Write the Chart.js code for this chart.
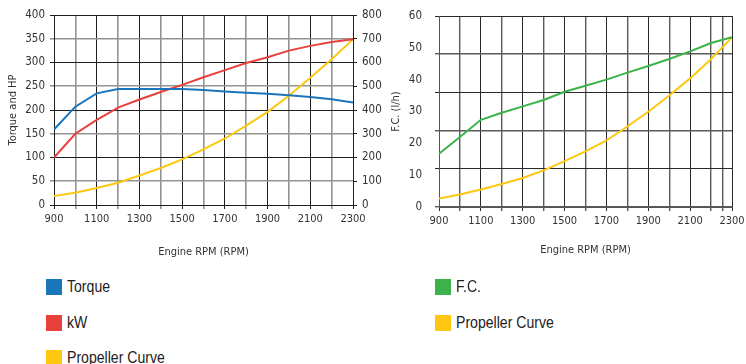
<!DOCTYPE html>
<html>
<head>
<meta charset="utf-8">
<script src="https://cdn.jsdelivr.net/npm/chart.js@4"></script>
<style>
  body { margin: 0; background: #fff; width: 746px; height: 364px; overflow: hidden; position: relative; }
  canvas { position: absolute; top: 0; }
  #perfChart { left: 0; }
  #fuelChart { left: 380px; }
  .legend { position: absolute; font-family: 'Liberation Sans', Arial, sans-serif; font-size: 16px; color: #222; line-height: 16px; white-space: nowrap; }
  .legend span { display: inline-block; width: 16px; height: 16px; vertical-align: top; margin-right: 5px; }
  .legend b { display: inline-block; font-weight: normal; transform: scaleX(0.88); transform-origin: 0 50%; }
</style>
</head>
<body>
<canvas id="perfChart" width="392" height="266"></canvas>
<canvas id="fuelChart" width="366" height="266"></canvas>
<div id="legends"></div>
<script>
const rpm = [900, 1000, 1100, 1200, 1300, 1400, 1500, 1600, 1700, 1800, 1900, 2000, 2100, 2200, 2300];

// left chart (Torque and HP)
const torque = [159, 207, 235, 244, 244, 244, 244, 242, 239, 236.5, 234, 231, 227.5, 222.5, 216];
const kw = [100, 150, 179, 205, 222, 238, 253, 269, 284, 299, 311, 325, 335, 343, 349];
const propPower = [19, 26, 36, 47, 62, 78, 96, 117, 140, 167, 196, 230, 268, 307, 349];

// right chart (F.C.)
const fuel = [16.7, 22, 27.4, 29.6, 31.6, 33.6, 36.2, 38.1, 40, 42.2, 44.3, 46.5, 48.9, 51.5, 53.3];
const propFuel = [2.7, 3.9, 5.5, 7.2, 9.1, 11.5, 14.4, 17.5, 20.9, 25.3, 29.9, 35, 40.4, 46.5, 53.3];
const fuelExtraGrid = [2255];

const BLUE = '#1a75bb', RED = '#e8403a', YELLOW = '#fdc80f', GREEN = '#3bb34a';

Chart.defaults.font.family = "'DejaVu Sans Condensed', 'Liberation Sans', sans-serif";
Chart.defaults.font.size = 11.5;
Chart.defaults.color = '#333';

const pts = (ys) => rpm.map((x, i) => ({ x: x, y: ys[i] }));
const line = (label, ys, color, axis) => ({
    label: label, data: pts(ys), borderColor: color, backgroundColor: color,
    borderWidth: 2, pointRadius: 0, tension: 0, yAxisID: axis
});
const rpmLabel = (v) => ((v - 900) % 200 === 0 ? v : '');
const titleFont = { size: 11 };

function initPerfChart() {
    const ctx = document.getElementById('perfChart').getContext('2d');
    window.perfChart = new Chart(ctx, {
        type: 'line',
        data: {
            datasets: [
                line('Torque', torque, BLUE, 'y'),
                line('kW', kw, RED, 'y'),
                line('Propeller Curve', propPower, YELLOW, 'y')
            ]
        },
        options: {
            responsive: false, animation: false, devicePixelRatio: 1,
            layout: { padding: { top: 15, left: 0, right: 0, bottom: 0 } },
            plugins: { legend: { display: false }, tooltip: { enabled: false } },
            scales: {
                x: {
                    type: 'linear', min: 900, max: 2300,
                    ticks: { stepSize: 100, autoSkip: false, maxRotation: 0, padding: 4, font: { size: 11 }, callback: rpmLabel },
                    grid: {
                        tickLength: 4,
                        color: (c) => (c.index % 2 ? '#939393' : '#1e1e1e'),
                        lineWidth: (c) => (c.index % 2 ? 1.6 : 1)
                    },
                    border: { color: '#1e1e1e' },
                    title: { display: true, text: 'Engine RPM (RPM)', font: titleFont, padding: { top: 0, bottom: 7 } },
                    afterFit: (s) => { s.height = 61; }
                },
                y: {
                    min: 0, max: 400,
                    ticks: { stepSize: 50, padding: 5 },
                    grid: {
                        tickLength: 4,
                        color: (c) => (c.index % 2 ? '#939393' : '#1e1e1e'),
                        lineWidth: (c) => (c.index % 2 ? 1.6 : 1)
                    },
                    border: { color: '#1e1e1e' },
                    title: { display: true, text: 'Torque and HP', font: titleFont, padding: { top: 7, bottom: 0 } },
                    afterFit: (s) => { s.width = 54; }
                },
                y2: {
                    position: 'right', min: 0, max: 800,
                    ticks: { stepSize: 100, padding: 5 },
                    grid: { drawOnChartArea: false, tickLength: 4, color: '#1e1e1e' },
                    border: { color: '#1e1e1e' },
                    afterFit: (s) => { s.width = 39; }
                }
            }
        }
    });
}

function initFuelChart() {
    const ctx = document.getElementById('fuelChart').getContext('2d');
    window.fuelChart = new Chart(ctx, {
        type: 'line',
        data: {
            datasets: [
                line('F.C.', fuel, GREEN, 'y'),
                line('Propeller Curve', propFuel, YELLOW, 'y')
            ]
        },
        options: {
            responsive: false, animation: false, devicePixelRatio: 1,
            layout: { padding: { top: 16, left: 0, right: 14, bottom: 0 } },
            plugins: { legend: { display: false }, tooltip: { enabled: false } },
            scales: {
                x: {
                    type: 'linear', min: 900, max: 2300,
                    afterBuildTicks: (s) => { fuelExtraGrid.forEach(v => s.ticks.push({ value: v })); },
                    ticks: { stepSize: 100, autoSkip: false, maxRotation: 0, padding: 4, font: { size: 11 }, callback: rpmLabel },
                    grid: {
                        tickLength: 4,
                        color: (c) => (c.index % 2 ? '#5a5a5a' : '#2a2a2a'),
                        lineWidth: (c) => (c.index % 2 ? 1.4 : 1)
                    },
                    border: { color: '#555' },
                    title: { display: true, text: 'Engine RPM (RPM)', font: titleFont, padding: { top: 0, bottom: 9 } },
                    afterFit: (s) => { s.height = 59; }
                },
                y: {
                    min: 0, max: 60, weight: 1,
                    ticks: { stepSize: 10, padding: 9 },
                    grid: { display: false },
                    border: { color: '#555' },
                    title: { display: true, text: 'F.C. (l/h)', font: titleFont, padding: { top: 10, bottom: 0 } },
                    afterFit: (s) => { s.width = 59; }
                },
                yGrid: {
                    position: 'left', min: 0, max: 60, weight: 0,
                    ticks: { stepSize: 12, display: false },
                    grid: {
                        tickLength: 4,
                        color: (c) => (c.index % 2 ? '#2a2a2a' : '#5a5a5a'),
                        lineWidth: (c) => (c.index % 2 ? 1 : 1.4)
                    },
                    border: { display: false },
                    afterFit: (s) => { s.width = 0; }
                }
            }
        }
    });
}

function buildLegend() {
    const items = [
        { x: 46, y: 279, label: 'Torque', color: BLUE },
        { x: 46, y: 315, label: 'kW', color: RED },
        { x: 46, y: 350, label: 'Propeller Curve', color: YELLOW },
        { x: 435, y: 279, label: 'F.C.', color: GREEN },
        { x: 435, y: 315, label: 'Propeller Curve', color: YELLOW }
    ];
    const box = document.getElementById('legends');
    items.forEach(it => {
        const d = document.createElement('div');
        d.className = 'legend';
        d.style.left = it.x + 'px';
        d.style.top = it.y + 'px';
        d.innerHTML = '<span style="background:' + it.color + '"></span><b>' + it.label + '</b>';
        box.appendChild(d);
    });
}

initPerfChart();
initFuelChart();
buildLegend();
</script>
</body>
</html>
